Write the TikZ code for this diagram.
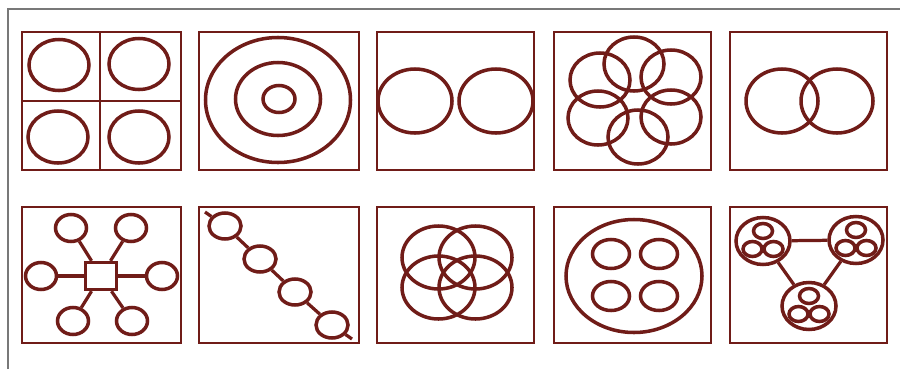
\documentclass[tikz,border=0pt]{standalone}
\usetikzlibrary{shapes.geometric}
\definecolor{ink}{RGB}{112,28,24}
\definecolor{edgegray}{RGB}{120,120,120}

\begin{document}
\begin{tikzpicture}[
  x=0.025cm, y=-0.025cm,
  panel/.style={draw=ink, line width=1.9pt},
  ring/.style 2 args={ellipse, draw=ink, line width=2.5pt, inner sep=0pt,
              minimum width=#1*0.025cm, minimum height=#2*0.025cm},
  hub/.style={rectangle, draw=ink, line width=2.4pt, inner sep=0pt,
              minimum width=31*0.025cm, minimum height=27*0.025cm},
  spoke/.style={draw=ink, line width=2.3pt}
]
\useasboundingbox (0,0) rectangle (900,369);
\fill[white] (0,0) rectangle (900,369);
\draw[edgegray, line width=1.5pt] (8,369) -- (8,9) -- (900,9);

\draw[panel] (22,32) rectangle (181,170);
\draw[panel] (100,32) -- (100,170);
\draw[panel] (22,101) -- (181,101);
\node[ring={60}{51}] (q1) at (59,65)  {};
\node[ring={60}{51}] (q2) at (139,64) {};
\node[ring={60}{52}] (q3) at (58,137) {};
\node[ring={60}{52}] (q4) at (139,137){};

\draw[panel] (199,32) rectangle (359,170);
\node[ring={145}{125}] (t1) at (278,100) {};
\node[ring={85}{73}]   (t2) at (278,99)  {};
\node[ring={32}{27}]   (t3) at (279,99)  {};

\draw[panel] (377,32) rectangle (534,170);
\node[ring={74}{64}] (s1) at (415,101) {};
\node[ring={74}{64}] (s2) at (496,101) {};

\draw[panel] (554,32) rectangle (711,170);
\node[ring={60}{54}] (f1) at (634,64)  {};
\node[ring={60}{54}] (f2) at (671,77)  {};
\node[ring={60}{54}] (f3) at (671,117) {};
\node[ring={60}{54}] (f4) at (638,137) {};
\node[ring={60}{54}] (f5) at (598,118) {};
\node[ring={60}{54}] (f6) at (600,80)  {};

\draw[panel] (730,32) rectangle (887,170);
\node[ring={72}{64}] (v1) at (782,101) {};
\node[ring={72}{64}] (v2) at (837,101) {};

\draw[panel] (22,207) rectangle (181,343);
\node[hub] (h) at (101,276) {};
\node[ring={31}{27}] (k1) at (71,228)  {};
\node[ring={31}{27}] (k2) at (131,228) {};
\node[ring={31}{27}] (k3) at (41,276)  {};
\node[ring={31}{27}] (k4) at (162,276) {};
\node[ring={31}{27}] (k5) at (73,321)  {};
\node[ring={31}{27}] (k6) at (132,321) {};
\draw[spoke] (h) -- (k1);
\draw[spoke] (h) -- (k2);
\draw[spoke] (h) -- (k3);
\draw[spoke] (h) -- (k4);
\draw[spoke] (h) -- (k5);
\draw[spoke] (h) -- (k6);

\draw[panel] (199,207) rectangle (359,343);
\coordinate (c0) at (205,212);
\node[ring={32}{26}] (c1) at (225,226) {};
\node[ring={32}{26}] (c2) at (260,259) {};
\node[ring={32}{26}] (c3) at (295,292) {};
\node[ring={32}{26}] (c4) at (332,325) {};
\coordinate (c5) at (352,339);
\draw[spoke] (c0) -- (c1) -- (c2) -- (c3) -- (c4) -- (c5);

\draw[panel] (377,207) rectangle (534,343);
\node[ring={73}{63}] (w1) at (438.5,257.5) {};
\node[ring={73}{63}] (w2) at (475.5,257.5) {};
\node[ring={73}{63}] (w3) at (438.5,287.5) {};
\node[ring={73}{63}] (w4) at (475.5,287.5) {};

\draw[panel] (554,207) rectangle (711,343);
\node[ring={136}{113}] (o) at (634,276) {};
\node[ring={37}{29}] (o1) at (611,254) {};
\node[ring={37}{29}] (o2) at (659,254) {};
\node[ring={37}{29}] (o3) at (611,296) {};
\node[ring={37}{29}] (o4) at (659,296) {};

\draw[panel] (730,207) rectangle (887,343);
\node[ring={54}{47}] (gl) at (763,241) {};
\node[ring={54}{47}] (gr) at (856,240) {};
\node[ring={54}{47}] (gb) at (809,306) {};
\node[ring={19}{15}] (gl1) at (763,231)   {};
\node[ring={19}{15}] (gl2) at (752.5,249) {};
\node[ring={19}{15}] (gl3) at (773.5,249) {};
\node[ring={19}{15}] (gr1) at (856,230)   {};
\node[ring={19}{15}] (gr2) at (845.5,248) {};
\node[ring={19}{15}] (gr3) at (866.5,248) {};
\node[ring={19}{15}] (gb1) at (809,296)   {};
\node[ring={19}{15}] (gb2) at (798.5,314) {};
\node[ring={19}{15}] (gb3) at (819.5,314) {};
\draw[spoke] (gl) -- (gr);
\draw[spoke] (gl) -- (gb);
\draw[spoke] (gr) -- (gb);
\end{tikzpicture}
\end{document}
